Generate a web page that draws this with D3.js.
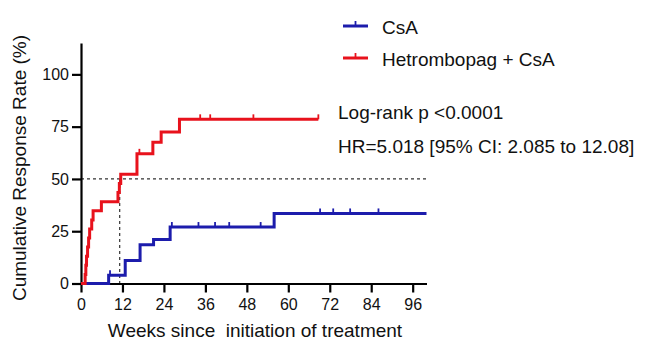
<!DOCTYPE html>
<html>
<head>
<meta charset="utf-8">
<script src="https://cdn.jsdelivr.net/npm/d3@7"></script>
<style>
  body { margin: 0; background: #fff; }
  svg { display: block; font-family: Arial, "Liberation Sans", sans-serif; }
</style>
</head>
<body>
<svg id="chart" width="656" height="349"></svg>
<script>
// Kaplan-Meier style cumulative response
var redTime = [0, 1.2, 1.4, 1.6, 1.9, 2.2, 2.5, 3.1, 3.5, 5.9, 10.7, 11.1, 11.5, 16.2, 20.8, 23.2, 28.5, 68.7];
var redRate = [0, 4.3, 8.7, 13, 17.4, 21.7, 26.1, 30.4, 34.8, 39.1, 43.5, 47.8, 52.2, 62, 67.5, 72.5, 78.5, 78.5];
var redCensor = [16.9, 34.5, 37.4, 49.9, 68.7];

var blueTime = [0, 8, 12.8, 17.1, 21, 25.8, 55.9, 100];
var blueRate = [0, 4, 11, 18.5, 21, 27, 33.5, 33.5];
var blueCensor = [8.4, 26.3, 34, 38.8, 42.9, 52, 69.2, 73, 77.9, 86.1];

var xTicks = [0, 12, 24, 36, 48, 60, 72, 84, 96];
var yTicks = [0, 25, 50, 75, 100];
var medianWeek = 11.2;

var series = [
  { name: "CsA", color: "#1c1cac", time: blueTime, rate: blueRate, censor: blueCensor },
  { name: "Hetrombopag + CsA", color: "#e8121c", time: redTime, rate: redRate, censor: redCensor }
];

var svg = d3.select("#chart");

var x = d3.scaleLinear().domain([0, 100]).range([81, 426.5]);
var y = d3.scaleLinear().domain([0, 115]).range([283.5, 43]);

// dashed reference lines
svg.append("line")
  .attr("x1", x(0)).attr("x2", x(100))
  .attr("y1", y(50)).attr("y2", y(50))
  .attr("stroke", "#333").attr("stroke-width", 1.2)
  .attr("stroke-dasharray", "3,3");
svg.append("line")
  .attr("x1", x(medianWeek)).attr("x2", x(medianWeek))
  .attr("y1", y(50)).attr("y2", y(0))
  .attr("stroke", "#333").attr("stroke-width", 1.2)
  .attr("stroke-dasharray", "3,3");

function rateAt(s, t) {
  var v = 0;
  for (var i = 0; i < s.time.length; i++) {
    if (s.time[i] <= t) v = s.rate[i];
  }
  return v;
}

var line = d3.line()
  .x(function(d) { return x(d[0]); })
  .y(function(d) { return y(d[1]); })
  .curve(d3.curveStepAfter);

// axes
var xAxis = svg.append("g")
  .attr("transform", "translate(0," + y(0) + ")")
  .call(d3.axisBottom(x).tickValues(xTicks).tickSize(9).tickPadding(6).tickSizeOuter(0));
var yAxis = svg.append("g")
  .attr("transform", "translate(" + x(0) + ",0)")
  .call(d3.axisLeft(y).tickValues(yTicks).tickSize(9).tickPadding(3).tickSizeOuter(0));

[xAxis, yAxis].forEach(function(a) {
  a.select(".domain").attr("stroke", "#000").attr("stroke-width", 2.2);
  a.selectAll(".tick line").attr("stroke", "#000").attr("stroke-width", 2.2);
  a.selectAll(".tick text")
    .attr("fill", "#111")
    .style("font-size", "16px")
    .style("font-family", "Arial, 'Liberation Sans', sans-serif");
});

series.forEach(function(s) {
  var pts = s.time.map(function(t, i) { return [t, s.rate[i]]; });
  svg.append("path")
    .datum(pts)
    .attr("fill", "none")
    .attr("stroke", s.color)
    .attr("stroke-width", 3)
    .attr("d", line);

  svg.append("g").selectAll("line")
    .data(s.censor)
    .enter().append("line")
    .attr("x1", function(d) { return x(d); })
    .attr("x2", function(d) { return x(d); })
    .attr("y1", function(d) { return y(rateAt(s, d)); })
    .attr("y2", function(d) { return y(rateAt(s, d)) - 5; })
    .attr("stroke", s.color)
    .attr("stroke-width", 1.8);
});

// axis titles
svg.append("text")
  .attr("x", 255).attr("y", 337)
  .attr("text-anchor", "middle")
  .style("font-size", "19px").attr("fill", "#111")
  .style("white-space", "pre")
  .text("Weeks since  initiation of treatment");

svg.append("text")
  .attr("transform", "translate(26,168) rotate(-90)")
  .attr("text-anchor", "middle")
  .style("font-size", "19px").attr("fill", "#111")
  .text("Cumulative Response Rate (%)");

// legend
var legend = svg.append("g");
series.forEach(function(s, i) {
  var ly = 26 + i * 32;
  legend.append("line")
    .attr("x1", 343).attr("x2", 368)
    .attr("y1", ly).attr("y2", ly)
    .attr("stroke", s.color).attr("stroke-width", 3);
  legend.append("line")
    .attr("x1", 355.5).attr("x2", 355.5)
    .attr("y1", ly).attr("y2", ly - 5)
    .attr("stroke", s.color).attr("stroke-width", 1.8);
  legend.append("text")
    .attr("x", 382).attr("y", ly + 7.5)
    .style("font-size", "19px").attr("fill", "#111")
    .text(s.name);
});

// statistics
svg.append("text")
  .attr("x", 338).attr("y", 119)
  .style("font-size", "19px").attr("fill", "#111")
  .text("Log-rank p <0.0001");
svg.append("text")
  .attr("x", 338).attr("y", 153)
  .style("font-size", "19px").attr("fill", "#111")
  .text("HR=5.018 [95% CI: 2.085 to 12.08]");
</script>
</body>
</html>
